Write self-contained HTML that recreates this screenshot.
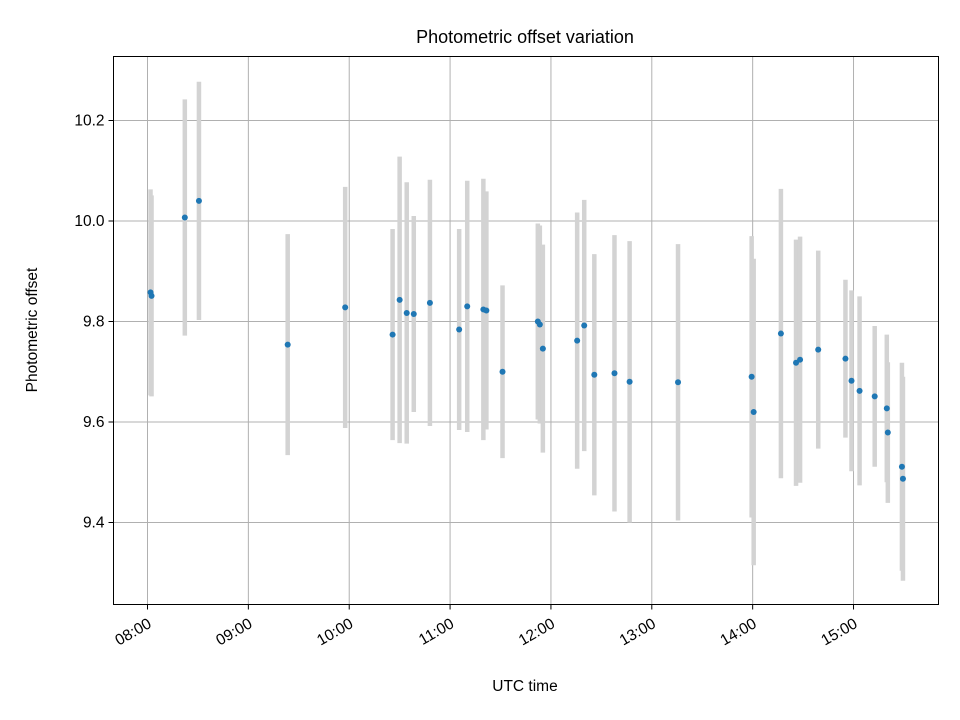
<!DOCTYPE html>
<html><head><meta charset="utf-8"><style>
body{margin:0;background:#fff;}
svg{display:block;font-family:"Liberation Sans",sans-serif;}
</style></head><body>
<svg id="chart" width="960" height="720"></svg>
<script>
const times=[8.03,8.04,8.37,8.51,9.39,9.96,10.43,10.50,10.57,10.64,10.80,11.09,11.17,11.33,11.36,11.52,11.87,11.89,11.92,12.26,12.33,12.43,12.63,12.78,13.26,13.99,14.01,14.28,14.43,14.47,14.65,14.92,14.98,15.06,15.21,15.33,15.34,15.48,15.49];
const values=[9.858,9.851,10.007,10.04,9.754,9.828,9.774,9.843,9.817,9.815,9.837,9.784,9.83,9.824,9.822,9.70,9.80,9.794,9.746,9.762,9.792,9.694,9.697,9.68,9.679,9.69,9.62,9.776,9.718,9.724,9.744,9.726,9.682,9.662,9.651,9.627,9.579,9.511,9.487];
const errors=[0.205,0.2,0.235,0.237,0.22,0.24,0.21,0.285,0.26,0.195,0.245,0.2,0.25,0.26,0.237,0.172,0.195,0.197,0.207,0.255,0.25,0.24,0.275,0.28,0.275,0.28,0.305,0.288,0.245,0.245,0.197,0.157,0.18,0.188,0.14,0.147,0.14,0.207,0.203];
const xTicks=[8,9,10,11,12,13,14,15];
const xTickLabels=["08:00","09:00","10:00","11:00","12:00","13:00","14:00","15:00"];
const yTicks=[9.4,9.6,9.8,10.0,10.2];
const yTickLabels=["9.4","9.6","9.8","10.0","10.2"];

const L=113.5,R=938.5,T=56.5,B=604.5;
const xs=h=>147.5+(h-8)*100.86;
const ys=v=>120.5+(10.2-v)/0.2*100.5;
const svg=document.getElementById('chart');
const NS='http://www.w3.org/2000/svg';
function mk(tag,attrs,parent){const e=document.createElementNS(NS,tag);for(const k in attrs)e.setAttribute(k,attrs[k]);(parent||svg).appendChild(e);return e;}

const grid=mk('g',{});


xTicks.forEach((t,i)=>{
  const x=xs(t);
  const gl=mk('line',{x1:x,x2:x,y1:T,y2:B,stroke:'#b0b0b0','stroke-width':1},grid);
  
  
  const tk=mk('line',{x1:x,x2:x,y1:B,y2:B+5,stroke:'#000','stroke-width':1});
  
  
  const ax=x+5, ay=B+22;
  const tx=mk('text',{x:ax,y:ay,'font-size':15.5,'text-anchor':'end',transform:`rotate(-30 ${ax} ${ay})`,fill:'#000'});
  tx.textContent=xTickLabels[i];
  
  
});
yTicks.forEach((t,i)=>{
  const y=ys(t);
  const gl=mk('line',{x1:L,x2:R,y1:y,y2:y,stroke:'#b0b0b0','stroke-width':1},grid);
  
  
  const tk=mk('line',{x1:L-5,x2:L,y1:y,y2:y,stroke:'#000','stroke-width':1});
  
  
  const tx=mk('text',{x:L-9,y:y+5,'font-size':15.5,'text-anchor':'end',fill:'#000'});
  tx.textContent=yTickLabels[i];
  
  
});
times.forEach((t,i)=>{
  const b=mk('line',{x1:xs(t),x2:xs(t),y1:ys(values[i]+errors[i]),y2:ys(values[i]-errors[i]),stroke:'#d3d3d3','stroke-width':4.5});
  
  
});
times.forEach((t,i)=>{
  const c=mk('circle',{cx:xs(t),cy:ys(values[i]),r:3,fill:'#1f77b4'});
  
  
});
const frame=mk('rect',{x:L,y:T,width:R-L,height:B-T,fill:'none',stroke:'#000','stroke-width':1});


const title=mk('text',{x:525,y:43,'font-size':18,'text-anchor':'middle',fill:'#000'});
title.textContent='Photometric offset variation';


const xl=mk('text',{x:525,y:691,'font-size':15.5,'text-anchor':'middle',fill:'#000'});
xl.textContent='UTC time';


const yl=mk('text',{x:37,y:330,'font-size':15.5,'text-anchor':'middle',fill:'#000',transform:'rotate(-90 37 330)'});
yl.textContent='Photometric offset';


</script>
</body></html>
